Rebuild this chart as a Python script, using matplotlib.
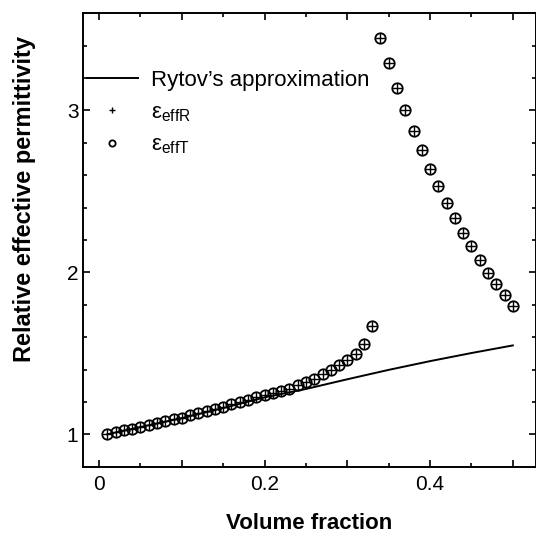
import numpy as np
import matplotlib
matplotlib.use("Agg")
import matplotlib.pyplot as plt
from matplotlib.ticker import MultipleLocator, FuncFormatter

plt.rcParams['font.family'] = ['Liberation Sans', 'DejaVu Sans']
plt.rcParams['mathtext.fontset'] = 'custom'
plt.rcParams['mathtext.rm'] = 'Liberation Sans'
plt.rcParams['mathtext.it'] = 'Liberation Sans'

# Volume fraction for simulated points
vf_low = [0.01, 0.02, 0.03, 0.04, 0.05, 0.06, 0.07, 0.08, 0.09, 0.10,
          0.11, 0.12, 0.13, 0.14, 0.15, 0.16, 0.17, 0.18, 0.19, 0.20,
          0.21, 0.22, 0.23, 0.24, 0.25, 0.26, 0.27, 0.28, 0.29, 0.30,
          0.31, 0.32, 0.33]
eps_low = [1.000, 1.014, 1.025, 1.035, 1.045, 1.056, 1.072, 1.082, 1.093, 1.103,
           1.117, 1.132, 1.144, 1.156, 1.169, 1.185, 1.200, 1.214, 1.230, 1.240,
           1.255, 1.267, 1.282, 1.302, 1.323, 1.344, 1.375, 1.395, 1.426, 1.457,
           1.498, 1.560, 1.668]
vf_high = [0.34, 0.35, 0.36, 0.37, 0.38, 0.39, 0.40, 0.41, 0.42, 0.43,
           0.44, 0.45, 0.46, 0.47, 0.48, 0.49, 0.50]
eps_high = [3.449, 3.292, 3.140, 3.000, 2.872, 2.753, 2.640, 2.533, 2.428, 2.338,
            2.245, 2.162, 2.074, 1.998, 1.926, 1.858, 1.792]

vf = vf_low + vf_high
eps_R = eps_low + eps_high
eps_T = eps_low + eps_high

# Rytov's approximation
vf_rytov = [0.01, 0.05, 0.10, 0.15, 0.20, 0.25, 0.30, 0.35, 0.40, 0.45, 0.50]
eps_rytov = [1.000, 1.045, 1.100, 1.162, 1.228, 1.280, 1.340, 1.398, 1.452, 1.502, 1.549]

fig = plt.figure(figsize=(5.36, 5.33), dpi=100)
ax = fig.add_axes([0.154, 0.1244, 0.846, 0.8506])

ax.plot(vf_rytov, eps_rytov, color='black', lw=1.4, label="Rytov\u2019s approximation")
ax.plot(vf, eps_R, linestyle='none', marker='+', color='black', ms=6.5, mew=1.0,
        label='\u03b5$_{\\mathregular{effR}}$')
ax.plot(vf, eps_T, linestyle='none', marker='o', mfc='none', mec='black', ms=7.5, mew=1.3,
        label='\u03b5$_{\\mathregular{effT}}$')

ax.set_xlim(-0.02, 0.528)
ax.set_ylim(0.8, 3.6)

ax.xaxis.set_major_locator(MultipleLocator(0.1))
ax.xaxis.set_minor_locator(MultipleLocator(0.05))
def xfmt(x, pos):
    if abs(x / 0.2 - round(x / 0.2)) < 1e-6:
        return '0' if abs(x) < 1e-9 else f'{x:.1f}'
    return ''
ax.xaxis.set_major_formatter(FuncFormatter(xfmt))
ax.yaxis.set_major_locator(MultipleLocator(1))
ax.yaxis.set_minor_locator(MultipleLocator(0.2))

ax.tick_params(which='both', direction='in', top=True, right=True, labelsize=15, width=1.2)
ax.tick_params(which='major', length=5)
ax.tick_params(axis='x', which='major', pad=6)
ax.tick_params(axis='y', which='major', pad=3)
ax.tick_params(which='minor', length=3)
for s in ax.spines.values():
    s.set_linewidth(1.4)

ax.set_xlabel('Volume fraction', fontsize=16, fontweight='bold', labelpad=14)
ax.set_ylabel('Relative effective permittivity', fontsize=17, fontweight='bold')
ax.yaxis.set_label_coords(-0.103, 0.59)

leg = ax.legend(loc='upper left', bbox_to_anchor=(-0.01, 0.895), frameon=False, fontsize=16,
                handlelength=2.3, handletextpad=0.6, labelspacing=0.5, markerscale=0.6,
                borderaxespad=0.0)

fig.savefig('out.png', dpi=100)
